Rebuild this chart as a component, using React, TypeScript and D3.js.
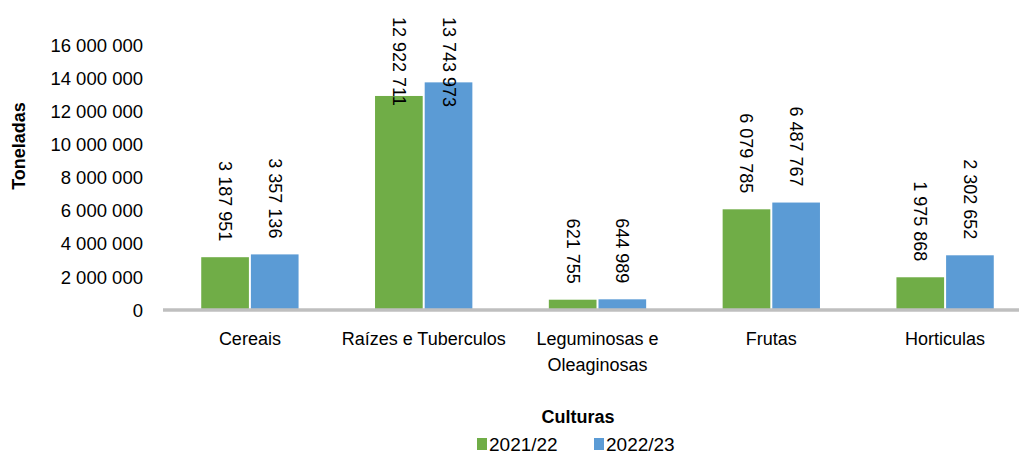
import React, { useEffect, useRef } from 'react';
import * as d3 from 'd3';

const categories = ['Cereais', 'Raízes e Tuberculos', 'Leguminosas e|Oleaginosas', 'Frutas', 'Horticulas'];
const seriesNames = ['2021/22', '2022/23'];
const values2122 = [3187951, 12922711, 621755, 6079785, 1975868];
const values2223 = [3357136, 13743973, 644989, 6487767, 3302652];
// labels as printed on the chart (last one differs from the bar height)
const labels2122 = ['3 187 951', '12 922 711', '621 755', '6 079 785', '1 975 868'];
const labels2223 = ['3 357 136', '13 743 973', '644 989', '6 487 767', '2 302 652'];
const yTicks = [0, 2000000, 4000000, 6000000, 8000000, 10000000, 12000000, 14000000, 16000000];
const colors = ['#70AD47', '#5B9BD5'];

const W = 1019;
const H = 455;
const FONT = '"Liberation Sans", Arial, sans-serif';

export default function App() {
  const svgRef = useRef<SVGSVGElement>(null);

  useEffect(() => {
    document.body.style.margin = '0';
    if (!svgRef.current) return;
    const svg = d3.select(svgRef.current);
    svg.selectAll('*').remove();

    const x0 = d3.scaleBand<string>()
      .domain(categories)
      .range([163, 1032])
      .paddingInner(0.44)
      .paddingOuter(0.22);

    const x1 = d3.scaleBand<string>()
      .domain(seriesNames)
      .range([0, x0.bandwidth()])
      .paddingInner(0.04);

    const y = d3.scaleLinear().domain([0, 16000000]).range([310, 45]);

    // y tick labels
    svg.append('g')
      .selectAll('text')
      .data(yTicks)
      .enter()
      .append('text')
        .attr('x', 143)
        .attr('y', d => y(d))
        .attr('dy', '0.36em')
        .attr('text-anchor', 'end')
        .style('font-family', FONT)
        .style('font-size', '18.5px')
        .style('fill', '#000')
        .text(d => d3.format(',')(d).replace(/,/g, ' '));

    // axis title
    svg.append('text')
      .attr('transform', 'translate(25,146) rotate(-90)')
      .attr('text-anchor', 'middle')
      .style('font-family', FONT)
      .style('font-size', '18px')
      .style('font-weight', 'bold')
      .text('Toneladas');

    const rows = categories.map((c, i) => ({
      cat: c,
      vals: [values2122[i], values2223[i]],
      labels: [labels2122[i], labels2223[i]],
    }));

    const groups = svg.append('g')
      .selectAll('g')
      .data(rows)
      .enter()
      .append('g')
        .attr('transform', d => `translate(${x0(d.cat)},0)`);

    groups.selectAll('rect')
      .data(d => d.vals.map((v, k) => ({ key: seriesNames[k], v, k })))
      .enter()
      .append('rect')
        .attr('x', d => x1(d.key) || 0)
        .attr('y', d => y(d.v))
        .attr('width', x1.bandwidth())
        .attr('height', d => y(0) - y(d.v))
        .style('fill', d => colors[d.k]);

    // baseline
    svg.append('line')
      .attr('x1', 163)
      .attr('x2', 1032)
      .attr('y1', y(0))
      .attr('y2', y(0))
      .attr('stroke', '#BFBFBF')
      .attr('stroke-width', 3.5);

    // data labels, rotated, clamped to the top of the chart
    groups.each(function (d) {
      const g = d3.select(this);
      d.vals.forEach((v, k) => {
        const cx = (x1(seriesNames[k]) || 0) + x1.bandwidth() / 2;
        const t = g.append('text')
          .style('font-family', FONT)
          .style('font-size', '18px')
          .style('fill', '#000')
          .attr('dominant-baseline', 'central')
          .attr('text-anchor', 'start')
          .text(d.labels[k]);
        const len = (t.node() as SVGTextElement).getComputedTextLength();
        let start = y(v) - 16 - len;
        if (start < 17) start = 17;
        t.attr('transform', `translate(${cx},${start}) rotate(90)`);
      });
    });

    // category labels
    const catG = svg.append('g');
    categories.forEach(c => {
      const lines = c.split('|');
      const cx = (x0(c) || 0) + x0.bandwidth() / 2;
      lines.forEach((ln, j) => {
        catG.append('text')
          .attr('x', cx)
          .attr('y', 345 + j * 26)
          .attr('text-anchor', 'middle')
          .style('font-family', FONT)
          .style('font-size', '18px')
          .style('fill', '#000')
          .text(ln);
      });
    });

    svg.append('text')
      .attr('x', 578)
      .attr('y', 423)
      .attr('text-anchor', 'middle')
      .style('font-family', FONT)
      .style('font-size', '18px')
      .style('font-weight', 'bold')
      .text('Culturas');

    // legend
    const legendX = [477, 594];
    const lg = svg.append('g');
    seriesNames.forEach((s, k) => {
      lg.append('rect')
        .attr('x', legendX[k])
        .attr('y', 438)
        .attr('width', 10)
        .attr('height', 12)
        .style('fill', colors[k]);
      lg.append('text')
        .attr('x', legendX[k] + 12)
        .attr('y', 450.5)
        .style('font-family', FONT)
        .style('font-size', '19px')
        .style('fill', '#000')
        .text(s);
    });
  }, []);

  return (
    <svg ref={svgRef} width={W} height={H} style={{ display: 'block', background: '#fff' }} />
  );
}
